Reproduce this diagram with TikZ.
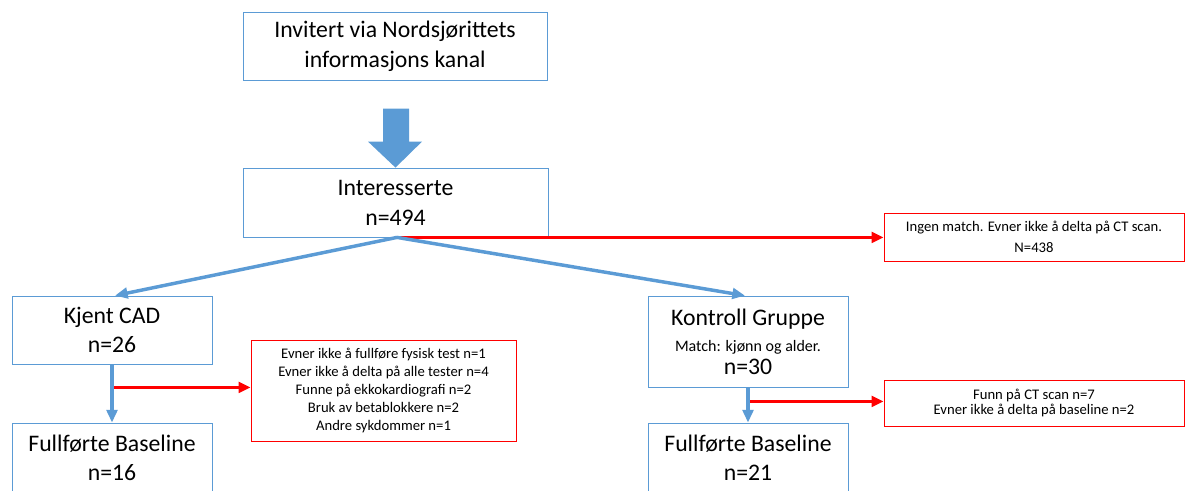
\documentclass[tikz,border=0pt]{standalone}
\usepackage{fontspec}
\setmainfont{Carlito}
\usetikzlibrary{arrows.meta,calc}
\definecolor{obl}{HTML}{5B9BD5}
\definecolor{ored}{HTML}{FF0000}
\tikzset{
  bbox/.style={draw=obl, line width=0.6pt, fill=white, inner sep=0pt, align=center,
    font=\fontsize{17.8}{21.5}\selectfont},
  rbox/.style={draw=ored, line width=0.7pt, fill=white, inner sep=0pt, align=center,
    font=\fontsize{11}{14}\selectfont},
  barrow/.style={draw=obl, line width=2.6pt, -{Triangle[length=9.5pt,width=8pt]}},
  rarrow/.style={draw=ored, line width=2.3pt, -{Triangle[length=9pt,width=8pt]}},
}
\begin{document}
\begin{tikzpicture}[x=0.75pt,y=-0.75pt]
\useasboundingbox (0,0) rectangle (1185,490);
\node[bbox, minimum width=304*0.75pt, minimum height=68*0.75pt] (top) at (395,46)
  {Invitert via Nordsjørittets\\[1pt]informasjons kanal};
\node[bbox, minimum width=305*0.75pt, minimum height=69*0.75pt] (int) at (395.5,202.5)
  {Interesserte\\[1pt]n=494};
\node[rbox, minimum width=300*0.75pt, minimum height=48*0.75pt, font=\fontsize{11}{15.5}\selectfont] (ingen) at (1034,237)
  {Ingen match. Evner ikke å delta på CT scan.\\N=438};
\node[bbox, minimum width=200*0.75pt, minimum height=68*0.75pt] (cad) at (112,330)
  {Kjent CAD\\n=26};
\node[rbox, minimum width=265*0.75pt, minimum height=101*0.75pt, font=\fontsize{11}{13.5}\selectfont] (redL) at (383.5,390.5)
  {Evner ikke å fullføre fysisk test n=1\\Evner ikke å delta på alle tester n=4\\Funne på ekkokardiografi n=2\\Bruk av betablokkere n=2\\Andre sykdommer n=1};
\node[bbox, minimum width=200*0.75pt, minimum height=70*0.75pt] (fullL) at (112,458)
  {Fullførte Baseline\\n=16};
\node[bbox, minimum width=200*0.75pt, minimum height=91*0.75pt] (kon) at (748,341.5)
  {Kontroll Gruppe\\[-2pt]{\fontsize{12}{14}\selectfont Match: kjønn og alder.}\\[-4pt]n=30};
\node[rbox, minimum width=300*0.75pt, minimum height=46*0.75pt, font=\fontsize{11}{11.5}\selectfont] (redR) at (1034,403)
  {Funn på CT scan n=7\\Evner ikke å delta på baseline n=2};
\node[bbox, minimum width=200*0.75pt, minimum height=70*0.75pt] (fullR) at (748,458)
  {Fullførte Baseline\\n=21};
% block arrow
\fill[obl] ($(int.north)+(-12.5,-59)$) -- ($(int.north)+(13.5,-59)$) -- ($(int.north)+(13.5,-26)$)
  -- ($(int.north)+(26.5,-26)$) -- (int.north) -- ($(int.north)+(-27.5,-26)$)
  -- ($(int.north)+(-12.5,-26)$) -- cycle;
% splits
\coordinate (sp) at ($(int.south)+(1.5,0)$);
\draw[rarrow] (sp) -- (sp -| ingen.west);
\draw[barrow] (sp) -- ($(cad.north)+(3,0)$);
\draw[barrow] (sp) -- ($(kon.north)+(-3,0)$);
\draw[barrow] (cad.south) -- (fullL.north);
\coordinate (cl) at ($(cad.south)+(2,23)$);
\draw[rarrow] (cl) -- (cl -| redL.west);
\draw[barrow] (kon.south) -- (fullR.north);
\coordinate (cr) at ($(kon.south)+(2,14)$);
\draw[rarrow] (cr) -- (cr -| redR.west);
\end{tikzpicture}
\end{document}
